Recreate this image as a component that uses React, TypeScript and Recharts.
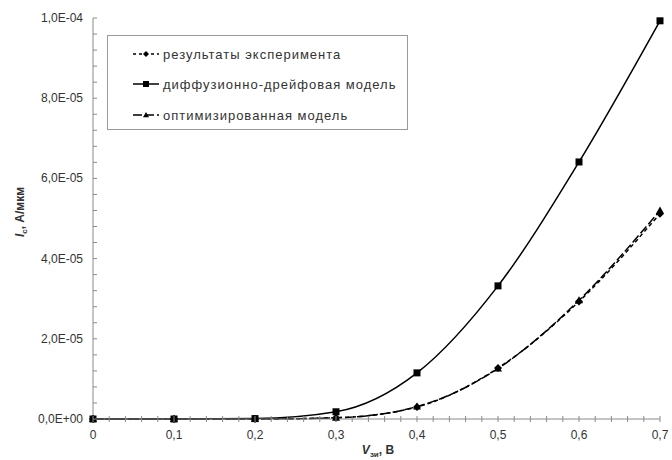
import React from "react";
import { LineChart, Line, XAxis, YAxis, Legend, Label } from "recharts";

const voltage = [0, 0.1, 0.2, 0.3, 0.4, 0.5, 0.6, 0.7];
const experiment = [0, 0, 0, 3e-7, 3.0e-6, 1.27e-5, 2.93e-5, 5.12e-5];
const diffusion = [0, 0, 1e-7, 1.8e-6, 1.15e-5, 3.32e-5, 6.41e-5, 9.93e-5];
const optimized = [0, 0, 0, 3e-7, 3.1e-6, 1.26e-5, 2.96e-5, 5.2e-5];

const seriesNames = [
  "результаты эксперимента",
  "диффузионно-дрейфовая модель",
  "оптимизированная модель",
];

const xMajorTicks = [0, 0.1, 0.2, 0.3, 0.4, 0.5, 0.6, 0.7];
const yMajorTicks = [0, 2e-5, 4e-5, 6e-5, 8e-5, 1e-4];
const MINOR_X = 5;
const MINOR_Y = 5;

const subdivide = (arr: number[], n: number) => {
  const out: number[] = [];
  for (let i = 0; i < arr.length - 1; i++) {
    for (let k = 0; k < n; k++) out.push(arr[i] + ((arr[i + 1] - arr[i]) * k) / n);
  }
  out.push(arr[arr.length - 1]);
  return out;
};
const xTicks = subdivide(xMajorTicks, MINOR_X);
const yTicks = subdivide(yMajorTicks, MINOR_Y);

const data = voltage.map((v, i) => ({
  v,
  exp: experiment[i],
  dif: diffusion[i],
  opt: optimized[i],
}));

const FONT = "'Liberation Sans', Arial, sans-serif";
const TEXT = "#333";
const AXIS = "#8a8a8a";

const isMajor = (v: number, list: number[]) =>
  list.some((m) => Math.abs(m - v) < Math.abs(list[1] - list[0]) * 1e-6);

const fmtX = (v: number) => (v === 0 ? "0" : v.toFixed(1).replace(".", ","));
const fmtY = (v: number) => {
  if (Math.abs(v) < 1e-20) return "0,0E+00";
  const e = Math.floor(Math.log10(v) + 1e-9);
  const m = v / Math.pow(10, e);
  const ae = Math.abs(e);
  return `${m.toFixed(1).replace(".", ",")}E${e < 0 ? "-" : "+"}${ae < 10 ? "0" + ae : ae}`;
};

const XTick = (props: any) => {
  const { x, y, payload } = props;
  const major = isMajor(payload.value, xMajorTicks);
  return (
    <g>
      <line x1={x} x2={x} y1={y - 3} y2={y + 3} stroke={AXIS} strokeWidth={1} />
      {major && (
        <text x={x} y={y + 20} textAnchor="middle" fontSize={12} fill={TEXT} fontFamily={FONT}>
          {fmtX(payload.value)}
        </text>
      )}
    </g>
  );
};

const YTick = (props: any) => {
  const { x, y, payload } = props;
  const major = isMajor(payload.value, yMajorTicks);
  return (
    <g>
      <line x1={x} x2={x + 4} y1={y} y2={y} stroke={AXIS} strokeWidth={1} />
      {major && (
        <text x={x - 10} y={y + 4} textAnchor="end" fontSize={12} fill={TEXT} fontFamily={FONT}>
          {fmtY(payload.value)}
        </text>
      )}
    </g>
  );
};

const Diamond = ({ cx, cy, s = 4 }: any) =>
  cx == null || cy == null ? null : (
    <polygon points={`${cx},${cy - s} ${cx + s},${cy} ${cx},${cy + s} ${cx - s},${cy}`} fill="#000" />
  );
const Square = ({ cx, cy, s = 3.5 }: any) =>
  cx == null || cy == null ? null : (
    <rect x={cx - s} y={cy - s} width={2 * s} height={2 * s} fill="#000" />
  );
const Triangle = ({ cx, cy, s = 4 }: any) =>
  cx == null || cy == null ? null : (
    <polygon points={`${cx},${cy - s} ${cx + s},${cy + s * 0.75} ${cx - s},${cy + s * 0.75}`} fill="#000" />
  );

const legendItems = [
  { name: seriesNames[0], dash: "3 3", Marker: Diamond },
  { name: seriesNames[1], dash: undefined, Marker: Square },
  { name: seriesNames[2], dash: "9 3", Marker: Triangle },
];

const LegendBox = () => (
  <div
    style={{
      position: "relative",
      width: 301,
      height: 95,
      border: "1px solid #9a9a9a",
      boxSizing: "border-box",
      background: "#fff",
      fontFamily: FONT,
      fontSize: 13,
      letterSpacing: 1,
      color: TEXT,
    }}
  >
    {legendItems.map((it, i) => {
      const cy = [18, 48, 79][i];
      return (
        <div
          key={it.name}
          style={{ position: "absolute", left: 24, top: cy - 9, height: 18, display: "flex", alignItems: "center", whiteSpace: "nowrap" }}
        >
          <svg width={28} height={18} style={{ display: "block" }}>
            <line x1={1} x2={27} y1={9} y2={9} stroke="#000" strokeWidth={1.5} strokeDasharray={it.dash} />
            <it.Marker cx={14} cy={9} s={3} />
          </svg>
          <span style={{ marginLeft: 3 }}>{it.name}</span>
        </div>
      );
    })}
  </div>
);

export default function App() {
  return (
    <div style={{ position: "absolute", left: 0, top: 0, width: 672, height: 460, background: "#fff" }}>
      <LineChart
        width={672}
        height={460}
        data={data}
        margin={{ top: 18, right: 12, bottom: 11, left: 33 }}
      >
        <XAxis
          dataKey="v"
          type="number"
          domain={[0, 0.7]}
          ticks={xTicks}
          interval={0}
          height={30}
          tickSize={0}
          tickMargin={0}
          tick={<XTick />}
          axisLine={{ stroke: AXIS, strokeWidth: 1 }}
          tickLine={false}
        >
          <Label
            content={() => (
              <text x={378} y={454} textAnchor="middle" fontSize={12} fontWeight="bold" fill={TEXT} fontFamily={FONT}>
                <tspan fontStyle="italic">V</tspan>
                <tspan fontSize={8} dy={3}>зи</tspan>
                <tspan dy={-3}>, В</tspan>
              </text>
            )}
          />
        </XAxis>
        <YAxis
          type="number"
          domain={[0, 1e-4]}
          ticks={yTicks}
          interval={0}
          width={60}
          tickSize={0}
          tickMargin={0}
          tick={<YTick />}
          axisLine={{ stroke: AXIS, strokeWidth: 1 }}
          tickLine={false}
        >
          <Label
            content={() => (
              <text
                x={0}
                y={0}
                transform="translate(24,212) rotate(-90)"
                textAnchor="middle"
                fontSize={12}
                fontWeight="bold"
                fill={TEXT}
                fontFamily={FONT}
              >
                <tspan fontStyle="italic">I</tspan>
                <tspan fontSize={8} dy={3}>c</tspan>
                <tspan dy={-3}>, А/мкм</tspan>
              </text>
            )}
          />
        </YAxis>
        <Legend
          content={() => <LegendBox />}
          layout="horizontal"
          align="center"
          verticalAlign="middle"
          wrapperStyle={{ position: "absolute", left: 107, top: 35, width: 301, height: 95 }}
        />
        <Line
          dataKey="opt"
          name={seriesNames[2]}
          type="monotone"
          stroke="#000"
          strokeWidth={1.5}
          strokeDasharray="9 3"
          dot={<Triangle />}
          isAnimationActive={false}
        />
        <Line
          dataKey="exp"
          name={seriesNames[0]}
          type="monotone"
          stroke="#000"
          strokeWidth={1.5}
          strokeDasharray="4 3"
          dot={<Diamond />}
          isAnimationActive={false}
        />
        <Line
          dataKey="dif"
          name={seriesNames[1]}
          type="monotone"
          stroke="#000"
          strokeWidth={1.5}
          dot={<Square />}
          isAnimationActive={false}
        />
      </LineChart>
    </div>
  );
}
